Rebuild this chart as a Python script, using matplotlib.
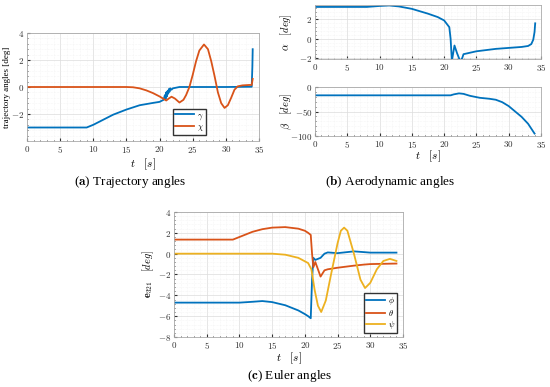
import matplotlib
matplotlib.use('Agg')
import matplotlib.pyplot as plt
from matplotlib.ticker import FuncFormatter, AutoMinorLocator

plt.rcParams['font.family'] = ['Liberation Serif', 'DejaVu Serif']
plt.rcParams['mathtext.fontset'] = 'cm'

BLUE = '#0072BD'
ORANGE = '#D95319'
YELLOW = '#EDB120'

# (a) trajectory angles
t_gam = [0, 9, 10, 11, 12, 13, 15, 17, 19, 20, 20.6, 20.8, 20.9, 21.0, 21.1, 21.2, 21.3, 21.4, 21.5, 21.6,
         21.8, 22, 22.5, 23, 25, 30, 33.9, 34.0, 34.05]
gam = [-3, -3, -2.8, -2.55, -2.3, -2.05, -1.67, -1.35, -1.18, -1.1, -0.95, -0.6, -0.9, -0.4, -0.7, -0.3,
       -0.5, -0.15, -0.35, -0.1, -0.2, -0.1, -0.05, 0, 0, 0, 0.02, 1.5, 2.8]
t_chi = [0, 10, 15, 16, 17, 18, 19, 20, 21, 21.4, 21.8, 22.3, 23, 23.6, 24, 24.5, 25, 25.5, 26, 26.7, 27.3,
         27.8, 28.3, 28.8, 29.3, 29.8, 30.3, 30.8, 31.3, 31.8, 32.5, 33.5, 33.9, 34.05]
chi = [0, 0, 0, -0.02, -0.1, -0.25, -0.45, -0.7, -1.0, -0.85, -0.72, -0.85, -1.15, -0.95, -0.6, 0.0, 0.9,
       1.9, 2.7, 3.15, 2.8, 1.9, 0.8, -0.4, -1.2, -1.55, -1.35, -0.8, -0.2, 0.05, 0.12, 0.15, 0.15, 0.6]

# (b) aerodynamic angles
t_alp = [0, 8, 10, 11.5, 13, 15, 17.5, 19, 20, 20.8, 21.0, 21.2, 21.6, 22, 22.5, 22.8, 23, 25, 28, 30,
         32, 33, 33.5, 33.8, 34.0, 34.1]
alp = [3.3, 3.3, 3.4, 3.45, 3.35, 3.1, 2.6, 2.25, 1.9, 1.2, 0.0, -2.3, -0.7, -1.5, -2.35, -2.0, -1.6,
       -1.3, -1.05, -0.95, -0.85, -0.75, -0.55, -0.1, 0.7, 1.6]
t_bet = [0, 21, 21.5, 22.3, 23, 24, 25.5, 27, 28, 29, 30, 31, 32, 33, 34]
bet = [-17, -17, -15, -13, -14, -18, -22, -24, -26, -31, -39, -50, -61, -75, -95]

# (c) euler angles
t_e = [0, 9, 10, 12, 13.5, 15, 17, 19, 20, 20.5, 20.9, 21.1, 21.3, 21.6, 22, 22.4, 23, 23.5, 25, 27.5,
       29, 30, 34]
phi = [-4.7, -4.7, -4.7, -4.62, -4.55, -4.65, -4.95, -5.45, -5.8, -6.0, -6.2, -2.5, -0.4, -0.6, -0.5,
       -0.4, 0.0, 0.12, 0.05, 0.22, 0.15, 0.1, 0.1]
theta = [1.35, 1.35, 1.6, 2.1, 2.35, 2.5, 2.55, 2.4, 2.2, 2.0, 1.8, 0.0, -1.3, -0.8, -1.5, -2.2, -1.6,
         -1.5, -1.35, -1.15, -1.05, -1.0, -0.95]
t_psi = [0, 15, 17, 19, 20.5, 21, 21.5, 22, 22.5, 23.2, 24, 25, 25.5, 26, 26.5, 27.5, 28.5, 29.2, 30,
         31, 32, 33, 34]
psi = [0, 0, -0.1, -0.4, -0.9, -1.5, -3.5, -5.0, -5.6, -4.5, -2.0, 1.0, 2.2, 2.5, 2.2, 0.0, -2.5, -3.3,
       -2.8, -1.5, -0.7, -0.5, -0.7]

W, H = 550, 387
fig = plt.figure(figsize=(5.5, 3.87), dpi=100)


def box(x0, y0, x1, y1):
    return [x0 / W, 1 - y1 / H, (x1 - x0) / W, (y1 - y0) / H]


def style(ax, ylim, yticks):
    ax.set_xlim(0, 35)
    ax.set_ylim(*ylim)
    ax.set_xticks(range(0, 36, 5))
    ax.set_yticks(yticks)
    ax.xaxis.set_minor_locator(AutoMinorLocator(5))
    ax.yaxis.set_minor_locator(AutoMinorLocator(5))
    ax.grid(True, which='major', color='#dcdcdc', lw=0.5)
    ax.grid(True, which='minor', color='#eeeeee', lw=0.4, ls=':')
    ax.tick_params(which='both', direction='in', labelsize=6.5, colors='#333333', length=2, pad=2)
    ax.tick_params(which='minor', length=1)
    for s in ax.spines.values():
        s.set_color('#aaaaaa')
        s.set_linewidth(0.6)
    fmt = FuncFormatter(lambda v, p: '$%g$' % v)
    ax.xaxis.set_major_formatter(fmt)
    ax.yaxis.set_major_formatter(fmt)


def leg(ax, **kw):
    ax.legend(fontsize=6, handlelength=2.2, handletextpad=0.4, borderpad=0.25, labelspacing=0.15,
              borderaxespad=0, fancybox=False, edgecolor='#333333', framealpha=1, **kw)


# (a)
ax1 = fig.add_axes(box(27, 33, 259, 141))
ax1.plot(t_gam, gam, color=BLUE, lw=1.3, label=r'$\gamma$')
ax1.plot(t_chi, chi, color=ORANGE, lw=1.3, label=r'$\chi$')
style(ax1, (-4, 4), [-2, 0, 2, 4])
ax1.set_ylabel('trajectory angles [deg]', fontsize=6.5)
ax1.yaxis.set_label_coords(-0.07, 0.5)
ax1.set_xlabel(r'$t \quad [s]$', fontsize=8)
ax1.xaxis.set_label_coords(0.5, -0.14)
leg(ax1, loc='lower left', bbox_to_anchor=(0.63, 0.055))

# (b)
ax2 = fig.add_axes(box(315, 5, 541, 59))
ax2.plot(t_alp, alp, color=BLUE, lw=1.3)
style(ax2, (-2.1, 3.5), [-2, 0, 2])
ax2.set_ylabel(r'$\alpha \quad [deg]$', fontsize=7.5)
ax2.yaxis.set_label_coords(-0.095, 0.5)

ax3 = fig.add_axes(box(315, 87, 541, 136))
ax3.plot(t_bet, bet, color=BLUE, lw=1.3)
style(ax3, (-100, 0), [-100, -50, 0])
ax3.set_ylabel(r'$\beta \quad [deg]$', fontsize=7.5)
ax3.yaxis.set_label_coords(-0.095, 0.5)
ax3.set_xlabel(r'$t \quad [s]$', fontsize=8)
ax3.xaxis.set_label_coords(0.5, -0.265)

# (c)
ax4 = fig.add_axes(box(174, 212, 403, 337))
ax4.plot(t_e, phi, color=BLUE, lw=1.3, label=r'$\phi$')
ax4.plot(t_e, theta, color=ORANGE, lw=1.3, label=r'$\theta$')
ax4.plot(t_psi, psi, color=YELLOW, lw=1.3, label=r'$\psi$')
style(ax4, (-8, 4), [-8, -6, -4, -2, 0, 2, 4])
ax4.set_ylabel(r'$\mathbf{e}_{321} \quad [deg]$', fontsize=7.5)
ax4.yaxis.set_label_coords(-0.079, 0.5)
ax4.set_xlabel(r'$t \quad [s]$', fontsize=8)
ax4.xaxis.set_label_coords(0.5, -0.112)
leg(ax4, loc='lower right', bbox_to_anchor=(0.975, 0.03))

fig.text(130 / W, 1 - 182 / H, r'($\mathbf{a}$) Trajectory angles', ha='center', va='center', fontsize=9.5)
fig.text(390 / W, 1 - 182 / H, r'($\mathbf{b}$) Aerodynamic angles', ha='center', va='center', fontsize=9.5)
fig.text(290 / W, 1 - 376 / H, r'($\mathbf{c}$) Euler angles', ha='center', va='center', fontsize=9.5)

fig.savefig('out.png', dpi=100)
